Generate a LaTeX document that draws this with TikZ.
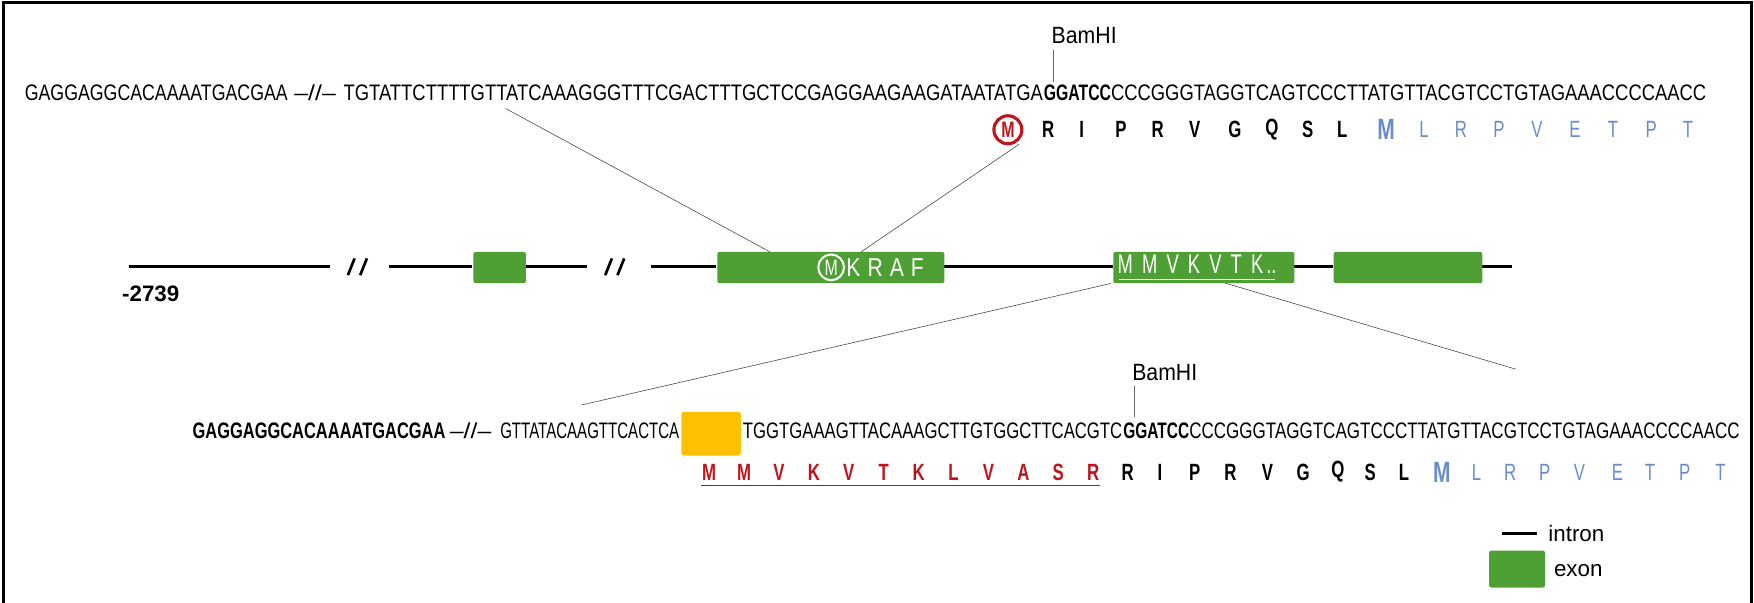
\documentclass[tikz,border=0pt]{standalone}
\usepackage{fontspec}
\setmainfont{Liberation Sans}
\usetikzlibrary{positioning}
\definecolor{exongreen}{RGB}{78,160,52}
\definecolor{startred}{RGB}{192,20,28}
\definecolor{aablue}{RGB}{106,140,200}
\definecolor{boxorange}{RGB}{255,192,0}
\newcommand{\seqbox}[3]{\resizebox{#1pt}{#2pt}{#3}}
\newcommand{\nar}[1]{\scalebox{0.75}[1.05]{#1}}
\tikzset{
  seq/.style={anchor=west, inner sep=0pt},
  aablack/.style={inner sep=0pt, font=\bfseries\fontsize{20}{20}\selectfont},
  aablue/.style={inner sep=0pt, text=aablue, font=\fontsize{20}{20}\selectfont},
  aared/.style={inner sep=0pt, text=startred, font=\bfseries\fontsize{20}{20}\selectfont},
  exon/.style={fill=exongreen, rounded corners=2pt},
  intron/.style={line width=2.6pt},
  link/.style={line width=0.5pt, black!75},
  tick/.style={line width=0.6pt, black!60},
  bam/.style={anchor=west, inner sep=0pt, font=\fontsize{20}{20}\selectfont}
}
\begin{document}
\begin{tikzpicture}[x=1pt,y=-1pt]
\useasboundingbox (0,0) rectangle (1568,539);
\draw[line width=2.5pt] (3,2) rectangle (1566,545);

% upper sequence
\node[seq] (ua) at (22,83) {\seqbox{235}{14}{GAGGAGGCACAAAATGACGAA}};
\node[seq] (ub) at (263,83) {\seqbox{37}{14}{–//–}};
\node[seq] (uc) at (307,83) {\seqbox{625}{14}{TGTATTCTTTTGTTATCAAAGGGTTTCGACTTTGCTCCGAGGAAGAAGATAATATGA}};
\node[seq] (ud) at (933,83) {\seqbox{60}{14}{\bfseries GGATCC}};
\node[seq] (ue) at (993,83) {\seqbox{532}{14}{CCCGGGTAGGTCAGTCCCTTATGTTACGTCCTGTAGAAACCCCAACC}};
\node[bam] (bamup) at (940,32) {\scalebox{0.95}[1.05]{BamHI}};
\draw[tick] (942,45) -- (942,73);

% upper protein
\node[circle, draw=startred, line width=2.8pt, inner sep=0pt, minimum size=25pt,
  text=startred, font=\bfseries\fontsize{19}{19}\selectfont] (mup) at (901,116) {\nar{M}};
\foreach \x/\l [count=\i] in {937/R,967/I,1002/P,1035/R,1068/V,1104/G,1137/Q,1169/S,1200/L}
  \node[aablack] (up\i) at (\x,116) {\nar{\l}};
\node[aablue, font=\bfseries\fontsize{25}{25}\selectfont] (bup) at (1239,116) {\nar{M}};
\foreach \x/\l [count=\i] in {1273/L,1306/R,1340/P,1374/V,1408/E,1442/T,1476/P,1509/T}
  \node[aablue] (bu\i) at (\x,116) {\nar{\l}};

% gene
\draw[intron] (115,238) -- (295,238);
\draw[intron] (348,238) -- (422,238);
\draw[intron] (470,238) -- (525,238);
\draw[intron] (582,238) -- (640,238);
\draw[intron] (844,238) -- (995,238);
\draw[intron] (1157,238) -- (1192,238);
\draw[intron] (1325,238) -- (1352,238);
\foreach \x in {311,322,541,552}
  \draw[line width=2.4pt] (\x,246) -- (\x+6,231);
\node[exon, minimum width=47pt, minimum height=28pt, anchor=north west] (ex1) at (423,225) {};
\node[exon, minimum width=203pt, minimum height=28pt, anchor=north west] (ex2) at (641,225) {};
\node[exon, minimum width=162pt, minimum height=28pt, anchor=north west] (ex3) at (995,225) {};
\node[exon, minimum width=133pt, minimum height=28pt, anchor=north west] (ex4) at (1192,225) {};
\node[anchor=west, inner sep=0pt, font=\bfseries\fontsize{20}{20}\selectfont] (pos) at (109,263) {-2739};
\node[circle, draw=white, line width=1.8pt, inner sep=0pt, minimum size=23pt,
  text=white, font=\fontsize{19}{19}\selectfont] (mex) at (743,239) {\nar{M}};
\node[right=1pt of mex, inner sep=0pt, text=white, font=\fontsize{21}{21}\selectfont] (kraf)
  {\scalebox{0.9}[1.1]{K\,\,R\,\,A\,\,F}};
\node[anchor=west, inner sep=0pt, text=white, font=\fontsize{21}{21}\selectfont] (mmv) at (999,236)
  {\scalebox{0.78}[1.15]{M\,\,\,M\,\,\,V\,\,\,K\,\,\,V\,\,\,T\,\,\,K\,..}};
\draw[white, line width=1pt] (1000,250) -- (1140,250);

% lower sequence
\node[seq] (la) at (172,385) {\seqbox{226}{14}{\bfseries GAGGAGGCACAAAATGACGAA}};
\node[seq] (lb) at (402,385) {\seqbox{37}{14}{–//–}};
\node[seq] (lc) at (447,385) {\seqbox{160}{14}{GTTATACAAGTTCACTCA}};
\node[fill=boxorange, rounded corners=2pt, minimum width=53pt, minimum height=39pt, anchor=north west] (tag) at (609,368) {};
\node[seq] (ld) at (664,385) {\seqbox{339}{14}{TGGTGAAAGTTACAAAGCTTGTGGCTTCACGTC}};
\node[seq] (le) at (1004,385) {\seqbox{59}{14}{\bfseries GGATCC}};
\node[seq] (lf) at (1063,385) {\seqbox{492}{14}{CCCGGGTAGGTCAGTCCCTTATGTTACGTCCTGTAGAAACCCCAACC}};
\node[bam] (bamlow) at (1012,333) {\scalebox{0.95}[1.05]{BamHI}};
\draw[tick] (1014,345) -- (1014,373);

% lower protein
\foreach \l [count=\i] in {M,M,V,K,V,T,K,L,V,A,S,R}
  \node[aared] (red\i) at (634+31.2*\i-31.2,422) {\nar{\l}};
\draw[startred, line width=0.6pt] (627,434) -- (983,434);
\foreach \x/\l [count=\i] in {1008/R,1037/I,1068/P,1100/R,1133/V,1165/G,1196/Q,1225/S,1255/L}
  \node[aablack] (lo\i) at (\x,422) {\nar{\l}};
\node[aablue, font=\bfseries\fontsize{25}{25}\selectfont] (blo) at (1289,422) {\nar{M}};
\foreach \x/\l [count=\i] in {1320/L,1350/R,1381/P,1412/V,1446/E,1475/T,1506/P,1538/T}
  \node[aablue] (bl\i) at (\x,422) {\nar{\l}};

% links
\coordinate (uin) at (452,97);
\coordinate (lin) at (520,362);
\coordinate (lout) at (1355,330);
\draw[link] (uin) -- (ex2.north west -| 688,225);
\draw[link] (911,129) -- (770,225);
\draw[link] (ex3.south west) ++(-2,0) -- (lin);
\draw[link] (1095,253) -- (lout);

% legend
\draw[line width=2.6pt] (1343,477) -- (1374,477);
\node[anchor=west, inner sep=0pt, font=\fontsize{20}{20}\selectfont] (lint) at (1384,477) {intron};
\node[exon, minimum width=50pt, minimum height=33pt, anchor=north west] (lex) at (1331,492) {};
\node[anchor=west, inner sep=0pt, font=\fontsize{20}{20}\selectfont] (lexon) at (1389,510) {exon};
\end{tikzpicture}
\end{document}
